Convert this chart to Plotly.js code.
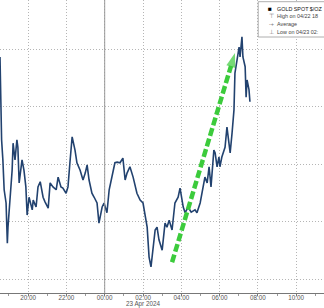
<!DOCTYPE html>
<html>
<head>
<meta charset="utf-8">
<script src="https://cdn.plot.ly/plotly-3.0.1.min.js"></script>
<style>
html,body{margin:0;padding:0;background:#fff;}
#chart{width:324px;height:308px;}
</style>
</head>
<body>
<div id="chart"></div>
<script>
// Gold spot $/oz, 22-23 Apr 2024
var times = [
"2024-04-22 18:32","2024-04-22 18:37","2024-04-22 18:41","2024-04-22 18:45","2024-04-22 18:51","2024-04-22 18:54","2024-04-22 18:55","2024-04-22 18:57",
"2024-04-22 19:03","2024-04-22 19:10","2024-04-22 19:13","2024-04-22 19:19","2024-04-22 19:25","2024-04-22 19:28","2024-04-22 19:32","2024-04-22 19:41","2024-04-22 19:47","2024-04-22 19:53","2024-04-22 19:57",
"2024-04-22 20:03","2024-04-22 20:13","2024-04-22 20:16","2024-04-22 20:25","2024-04-22 20:31","2024-04-22 20:38","2024-04-22 20:47","2024-04-22 20:53",
"2024-04-22 21:03","2024-04-22 21:09","2024-04-22 21:18","2024-04-22 21:28","2024-04-22 21:34","2024-04-22 21:43","2024-04-22 21:49","2024-04-22 21:59",
"2024-04-22 22:05","2024-04-22 22:11","2024-04-22 22:18","2024-04-22 22:27","2024-04-22 22:33","2024-04-22 22:43","2024-04-22 22:52","2024-04-22 22:59",
"2024-04-22 23:05","2024-04-22 23:11","2024-04-22 23:20","2024-04-22 23:27","2024-04-22 23:36","2024-04-22 23:42","2024-04-22 23:52","2024-04-22 23:58",
"2024-04-23 00:07","2024-04-23 00:14","2024-04-23 00:23","2024-04-23 00:32","2024-04-23 00:39","2024-04-23 00:48","2024-04-23 00:57",
"2024-04-23 01:04","2024-04-23 01:10","2024-04-23 01:19","2024-04-23 01:29","2024-04-23 01:35","2024-04-23 01:41","2024-04-23 01:51",
"2024-04-23 02:00","2024-04-23 02:13","2024-04-23 02:19","2024-04-23 02:25","2024-04-23 02:31","2024-04-23 02:38","2024-04-23 02:44","2024-04-23 02:50",
"2024-04-23 03:00","2024-04-23 03:09","2024-04-23 03:15","2024-04-23 03:22","2024-04-23 03:31","2024-04-23 03:40","2024-04-23 03:50","2024-04-23 03:56",
"2024-04-23 04:06","2024-04-23 04:12","2024-04-23 04:21","2024-04-23 04:31","2024-04-23 04:43","2024-04-23 04:49","2024-04-23 04:59",
"2024-04-23 05:08","2024-04-23 05:14","2024-04-23 05:21","2024-04-23 05:27","2024-04-23 05:33","2024-04-23 05:42","2024-04-23 05:46","2024-04-23 05:52","2024-04-23 05:58",
"2024-04-23 06:01","2024-04-23 06:07","2024-04-23 06:17","2024-04-23 06:23","2024-04-23 06:29","2024-04-23 06:33","2024-04-23 06:39","2024-04-23 06:45","2024-04-23 06:48","2024-04-23 06:55",
"2024-04-23 07:01","2024-04-23 07:04","2024-04-23 07:10","2024-04-23 07:13","2024-04-23 07:20","2024-04-23 07:23","2024-04-23 07:26","2024-04-23 07:32","2024-04-23 07:35"
];
var prices = [
2328.7,2314.3,2310.8,2305.6,2303.3,2298.6,2296.3,2299.1,
2303.8,2309.0,2313.7,2310.8,2314.3,2313.0,2306.8,2310.8,2309.0,2306.1,2301.2,
2304.3,2302.1,2303.8,2302.6,2306.1,2307.0,2304.3,2303.5,
2302.4,2306.8,2306.1,2305.6,2307.8,2306.1,2305.9,2305.0,
2306.1,2310.3,2314.8,2312.5,2310.3,2309.0,2307.3,2308.5,
2309.9,2307.3,2305.0,2304.3,2303.3,2299.8,2302.6,2303.3,
2301.6,2305.6,2307.8,2310.3,2310.4,2310.3,2311.1,
2307.3,2308.5,2309.6,2307.8,2306.1,2305.0,2303.8,
2303.3,2299.1,2293.9,2292.2,2295.7,2298.6,2299.1,2296.9,
2295.1,2299.8,2299.1,2300.3,2298.6,2303.3,2304.3,2305.9,
2302.6,2301.6,2302.6,2301.7,2302.1,2301.6,2303.3,
2306.1,2307.8,2306.8,2309.6,2306.1,2312.5,2312.0,2309.6,2311.3,
2309.6,2311.3,2313.0,2316.5,2314.3,2312.0,2315.5,2319.5,2325.9,2328.7,
2330.4,2328.7,2332.2,2328.7,2327.0,2321.7,2324.7,2323.0,2320.9
];

// Green trend arrow (start, end)
var arrowTimes = ["2024-04-23 03:31","2024-04-23 06:48"];
var arrowPrices = [2293.0, 2329.4];

// Legend texts (as visible in the cropped picture)
var legendLabels = ["GOLD SPOT $/OZ","High on 04/22 18","Average","Low on 04/23 02:"];
var legendSymbols = ["\u25A0","\u22A4","-+","\u22A5"];

var dateLabel = "23 Apr 2024";
var dateLabelAt = "2024-04-23 02:00";
var dayBoundary = "2024-04-23 00:00";
var xRange = ["2024-04-22 18:32","2024-04-23 11:27"];
var yRange = [2287.65, 2338.6];

var FONT = "Liberation Sans, Arial, sans-serif";

var traces = [
  {
    x: times, y: prices, type: "scatter", mode: "lines",
    line: {color: "#22426f", width: 1.6},
    hoverinfo: "skip", showlegend: false
  },
  {
    x: arrowTimes, y: arrowPrices, type: "scatter", mode: "lines+markers",
    line: {color: "#3ccb3c", width: 4.5, dash: "8px,3px"},
    marker: {symbol: "arrow", angleref: "previous", size: [0, 15], color: "#3ccb3c", line: {width: 0}},
    hoverinfo: "skip", showlegend: false
  }
];

var legYpx = [8.7, 15.7, 24, 32.3];
var legSymX = [0.8325, 0.8395, 0.8365, 0.8385];
var plotH = 293;
var annotations = [];
for (var i = 0; i < legendLabels.length; i++) {
  var yp = (plotH - legYpx[i]) / plotH;
  annotations.push({
    xref: "paper", yref: "paper", x: legSymX[i], y: yp, xanchor: "center", yanchor: "middle",
    text: legendSymbols[i], showarrow: false,
    font: {family: FONT, size: i === 0 ? 6.5 : 5.5, color: i === 0 ? "#000" : "#777"}
  });
  annotations.push({
    xref: "paper", yref: "paper", x: 0.849, y: yp, xanchor: "left", yanchor: "middle",
    text: legendLabels[i], showarrow: false,
    font: {family: FONT, size: 5.4, color: i === 0 ? "#111" : "#444"}
  });
}
annotations.push({
  xref: "x", yref: "paper", x: dateLabelAt, y: -0.039, xanchor: "center", yanchor: "middle",
  text: dateLabel, showarrow: false, font: {family: FONT, size: 6.3, color: "#555"}
});

var layout = {
  width: 324, height: 308,
  margin: {l: 0, r: 0, t: 0, b: 15, pad: 0},
  paper_bgcolor: "#fff", plot_bgcolor: "#fff",
  showlegend: false,
  hovermode: false,
  xaxis: {
    type: "date", range: xRange, automargin: false,
    tick0: "2024-04-22 20:00", dtick: 7200000, tickformat: "%H:%M",
    showgrid: true, gridcolor: "#b5b5b5", griddash: "1px,2px", gridwidth: 1,
    showline: true, linecolor: "#777", linewidth: 1,
    ticks: "outside", ticklen: 2, tickcolor: "#777",
    ticklabelstandoff: -4,
    minor: {dtick: 3600000, ticks: "outside", ticklen: 2, tickcolor: "#999", showgrid: false},
    tickfont: {family: FONT, size: 6.3, color: "#555"},
    zeroline: false, fixedrange: true
  },
  yaxis: {
    range: yRange, automargin: false, tick0: 2290, dtick: 10,
    showticklabels: false, ticks: "",
    showgrid: true, gridcolor: "#b5b5b5", griddash: "1px,2px", gridwidth: 1,
    zeroline: false, showline: false, fixedrange: true
  },
  shapes: [
    {type: "line", xref: "x", yref: "paper", x0: dayBoundary, x1: dayBoundary, y0: 0, y1: 1,
     line: {color: "#999", width: 1}},
    {type: "rect", xref: "paper", yref: "paper", x0: 0.797, x1: 1.05, y0: (plotH - 37) / plotH, y1: (plotH - 1.7) / plotH,
     fillcolor: "#fff", line: {color: "#999", width: 0.8}, layer: "above"}
  ],
  annotations: annotations
};

Plotly.newPlot("chart", traces, layout, {staticPlot: true, displayModeBar: false});
</script>
</body>
</html>
